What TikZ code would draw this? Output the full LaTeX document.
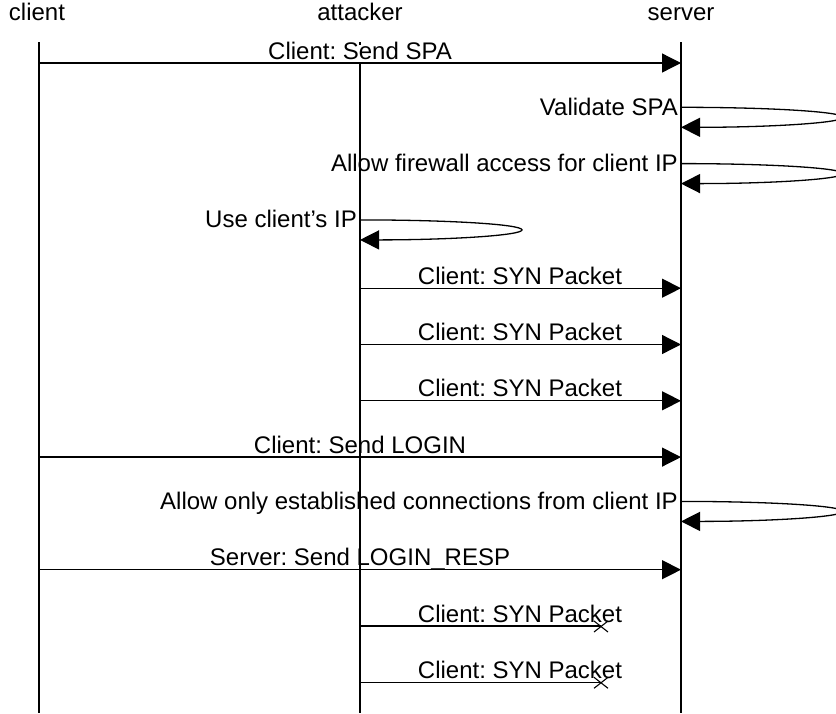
\documentclass[tikz,border=0pt]{standalone}
\usepackage{fontspec}
\setmainfont{Liberation Sans}
\usetikzlibrary{arrows.meta,calc}
\frenchspacing
\begin{document}
\begin{tikzpicture}[x=1pt,y=-1pt,
  every node/.style={font=\fontsize{24}{27}\selectfont, inner sep=0pt},
  life/.style={line width=1.3pt},
  msg/.style={line width=1.3pt, -{Triangle[length=19pt,width=19pt]}},
  lost/.style={line width=1.3pt},
  lbl/.style={anchor=base},
  slbl/.style={anchor=base east},
  xmark/.style={line width=1.1pt}]
\useasboundingbox (0,0) rectangle (836,713);
\def\rowy#1{\fpeval{63+56.3*#1}}
% headers
\node[lbl] (hc) at (37,20) {client};
\node[lbl] (ha) at (360,20) {attacker};
\node[lbl] (hs) at (681,20) {server};
% lifelines
\coordinate (ct) at (39,42);
\coordinate (cb) at (39,713);
\coordinate (at0) at (360,42);
\coordinate (at1) at (360,45);
\coordinate (at) at (360,63);
\coordinate (ab) at (360,713);
\coordinate (st) at (681,42);
\coordinate (sb) at (681,713);
\draw[life] (ct) -- (cb);
\draw[life] (st) -- (sb);
\draw[life] (at) -- (ab);
\draw[life] (at0) -- (at1);
% row 0: Client: Send SPA
\coordinate (c0) at (39,\rowy{0});
\coordinate (s0) at (681,\rowy{0});
\draw[msg] (c0) -- (s0);
\node[lbl] (l0) at (360,\rowy{0}-4) {Client: Send SPA};
% row 1: Validate SPA
\coordinate (s1) at (681,\rowy{1}-12);
\draw[msg] (s1) arc[start angle=-90,end angle=90,x radius=162,y radius=10];
\node[slbl] (l1) at (678,\rowy{1}-4) {Validate SPA};
% row 2
\coordinate (s2) at (681,\rowy{2}-12);
\draw[msg] (s2) arc[start angle=-90,end angle=90,x radius=162,y radius=10];
\node[slbl] (l2) at (678,\rowy{2}-4) {Allow firewall access for client IP};
% row 3
\coordinate (a3) at (360,\rowy{3}-12);
\draw[msg] (a3) arc[start angle=-90,end angle=90,x radius=162,y radius=10];
\node[slbl] (l3) at (357,\rowy{3}-4) {Use client’s IP};
% rows 4-6
\foreach \k in {4,5,6}{
  \coordinate (a\k) at (360,\rowy{\k});
  \coordinate (s\k) at (681,\rowy{\k});
  \draw[msg] (a\k) -- (s\k);
  \node[lbl] (l\k) at (520,\rowy{\k}-4) {Client: SYN Packet};
}
% row 7
\coordinate (c7) at (39,\rowy{7});
\coordinate (s7) at (681,\rowy{7});
\draw[msg] (c7) -- (s7);
\node[lbl] (l7) at (360,\rowy{7}-4) {Client: Send LOGIN};
% row 8
\coordinate (s8) at (681,\rowy{8}-12);
\draw[msg] (s8) arc[start angle=-90,end angle=90,x radius=162,y radius=10];
\node[slbl] (l8) at (678,\rowy{8}-4) {Allow only established connections from client IP};
% row 9
\coordinate (c9) at (39,\rowy{9});
\coordinate (s9) at (681,\rowy{9});
\draw[msg] (c9) -- (s9);
\node[lbl] (l9) at (360,\rowy{9}-4) {Server: Send LOGIN\_RESP};
% rows 10-11 lost
\foreach \k in {10,11}{
  \coordinate (a\k) at (360,\rowy{\k});
  \coordinate (x\k) at (601,\rowy{\k});
  \draw[lost] (a\k) -- (x\k);
  \node[lbl] (l\k) at (520,\rowy{\k}-4) {Client: SYN Packet};
  \draw[xmark] ($(x\k)+(-7,-5)$) -- ($(x\k)+(7,6)$);
  \draw[xmark] ($(x\k)+(-7,6)$) -- ($(x\k)+(7,-5)$);
}
\end{tikzpicture}
\end{document}
